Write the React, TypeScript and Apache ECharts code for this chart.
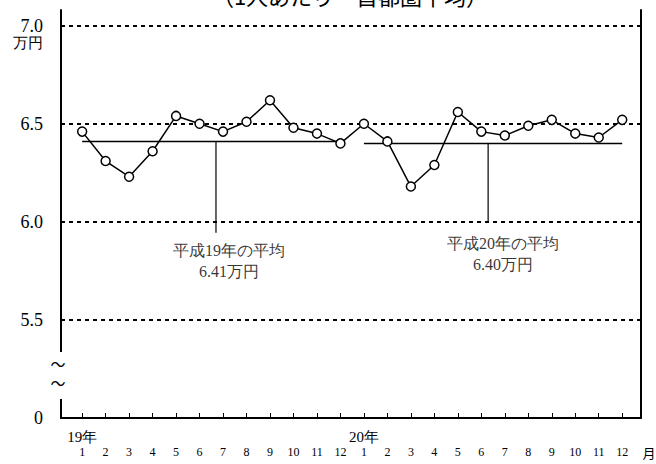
import React, { useEffect, useRef } from "react";
import * as echarts from "echarts";

// ---- data ----
const monthLabels = ["1", "2", "3", "4", "5", "6", "7", "8", "9", "10", "11", "12"];
const yearLabels = ["19年", "20年"];
const values19 = [6.46, 6.31, 6.23, 6.36, 6.54, 6.5, 6.46, 6.51, 6.62, 6.48, 6.45, 6.4];
const values20 = [6.5, 6.41, 6.18, 6.29, 6.56, 6.46, 6.44, 6.49, 6.52, 6.45, 6.43, 6.52];
const avg19 = 6.41;
const avg20 = 6.4;
const avgText19 = ["平成19年の平均", "6.41万円"];
const avgText20 = ["平成20年の平均", "6.40万円"];
const yTickValues = [5, 5.5, 6, 6.5, 7];
const titleText = "（1人あたり－首都圏平均）";

const SERIF = "Liberation Serif, DejaVu Serif, serif";

export default function App() {
  const ref = useRef<HTMLDivElement>(null);

  useEffect(() => {
    if (!ref.current) return;
    const chart = echarts.init(ref.current, undefined, { renderer: "svg" });

    const positions = Array.from({ length: 24 }, (_, i) => i + 1);
    const seriesData = [...values19, ...values20].map((v, i) => [i + 1, v]);

    const option: any = {
      animation: false,
      backgroundColor: "#fff",
      textStyle: { fontFamily: SERIF },
      grid: { left: 61, right: 15, top: 10, bottom: 46 },
      xAxis: {
        type: "value",
        min: 0.1,
        max: 24.8,
        axisLine: { show: true, lineStyle: { color: "#000", width: 2 } },
        axisTick: {
          show: true,
          customValues: positions,
          inside: true,
          length: 5,
          lineStyle: { color: "#000", width: 1 },
        },
        axisLabel: {
          customValues: positions,
          margin: 11,
          fontFamily: SERIF,
          formatter: (v: number) => {
            const idx = Math.round(v) - 1;
            const m = monthLabels[idx % 12];
            const yr = idx === 0 ? yearLabels[0] : idx === 12 ? yearLabels[1] : " ";
            return `{y|${yr}}\n{m|${m}}`;
          },
          rich: {
            y: { fontSize: 15, lineHeight: 16, color: "#000", fontFamily: SERIF },
            m: { fontSize: 12, lineHeight: 14, color: "#000", fontFamily: SERIF },
          },
        },
        splitLine: { show: false },
      },
      yAxis: [
        {
          type: "value",
          min: 5,
          max: 7.08,
          interval: 0.5,
          axisLine: { show: true, lineStyle: { color: "#000", width: 2 } },
          axisTick: { show: false },
          axisLabel: {
            margin: 18,
            showMaxLabel: false,
            fontFamily: SERIF,
            formatter: (v: number) => {
              if (!yTickValues.some((t) => Math.abs(t - v) < 1e-6)) return "";
              if (Math.abs(v - 5) < 1e-6) return "{a|0}";
              if (Math.abs(v - 7) < 1e-6) return "{b| }\n{a|7.0}\n{b|万円}";
              return `{a|${v.toFixed(1)}}`;
            },
            rich: {
              a: { fontSize: 18, lineHeight: 18, color: "#000", fontFamily: SERIF },
              b: { fontSize: 15, lineHeight: 16, color: "#000", fontFamily: SERIF },
            },
          },
          splitLine: {
            show: true,
            showMinLine: false,
            showMaxLine: false,
            lineStyle: { color: "#000", width: 2, type: [4, 4] },
          },
        },
        {
          type: "value",
          position: "right",
          min: 5,
          max: 7.08,
          axisLine: { show: true, lineStyle: { color: "#000", width: 2 } },
          axisTick: { show: false },
          axisLabel: { show: false },
          splitLine: { show: false },
        },
      ],
      series: [
        {
          type: "line",
          data: [
            [1, avg19],
            [12, avg19],
          ],
          symbol: "none",
          lineStyle: { color: "#000", width: 1.5 },
          z: 2,
        },
        {
          type: "line",
          data: [
            [13, avg20],
            [24, avg20],
          ],
          symbol: "none",
          lineStyle: { color: "#000", width: 1.5 },
          z: 2,
        },
        {
          type: "line",
          data: [
            [6.7, avg19],
            [6.7, 5.945],
          ],
          symbol: "none",
          lineStyle: { color: "#000", width: 1.2 },
          z: 2,
        },
        {
          type: "line",
          data: [
            [18.29, avg20],
            [18.29, 6.0],
          ],
          symbol: "none",
          lineStyle: { color: "#000", width: 1.2 },
          z: 2,
        },
        {
          type: "scatter",
          symbolSize: 0,
          itemStyle: { color: "#000" },
          data: [
            { value: [7.25, 5.8], text: avgText19 },
            { value: [18.92, 5.834], text: avgText20 },
          ],
          label: {
            show: true,
            position: "inside",
            formatter: (p: any) => p.data.text.join("\n"),
            fontSize: 16,
            lineHeight: 21,
            color: "#000",
            textBorderWidth: 0,
            fontFamily: SERIF,
            align: "center",
          },
          silent: true,
          z: 3,
        },
        {
          type: "line",
          data: seriesData,
          symbol: "circle",
          symbolSize: 9,
          itemStyle: { color: "#fff", borderColor: "#000", borderWidth: 1.5 },
          lineStyle: { color: "#000", width: 1.5 },
          z: 5,
        },
      ],
      graphic: [
        {
          type: "text",
          x: 350,
          y: 6,
          style: {
            text: titleText,
            font: "22px 'Noto Sans CJK JP', sans-serif",
            fill: "#000",
            align: "center",
            verticalAlign: "bottom",
          },
          z: 100,
        },
        {
          type: "rect",
          shape: { x: 54, y: 352, width: 14, height: 47 },
          style: { fill: "#fff" },
          z: 100,
        },
        {
          type: "text",
          x: 58,
          y: 373,
          style: {
            text: "～\n～",
            font: "15px 'Noto Sans CJK JP', sans-serif",
            lineHeight: 19,
            fill: "#000",
            align: "center",
            verticalAlign: "middle",
          },
          z: 101,
        },
        {
          type: "text",
          x: 649,
          y: 452,
          style: {
            text: "月",
            font: "13px 'Noto Sans CJK JP', sans-serif",
            fill: "#000",
            align: "center",
            verticalAlign: "middle",
          },
          z: 101,
        },
      ],
    };

    chart.setOption(option);
    return () => chart.dispose();
  }, []);

  return (
    <div
      ref={ref}
      style={{ position: "fixed", left: 0, top: 0, width: 656, height: 464, background: "#fff" }}
    />
  );
}
